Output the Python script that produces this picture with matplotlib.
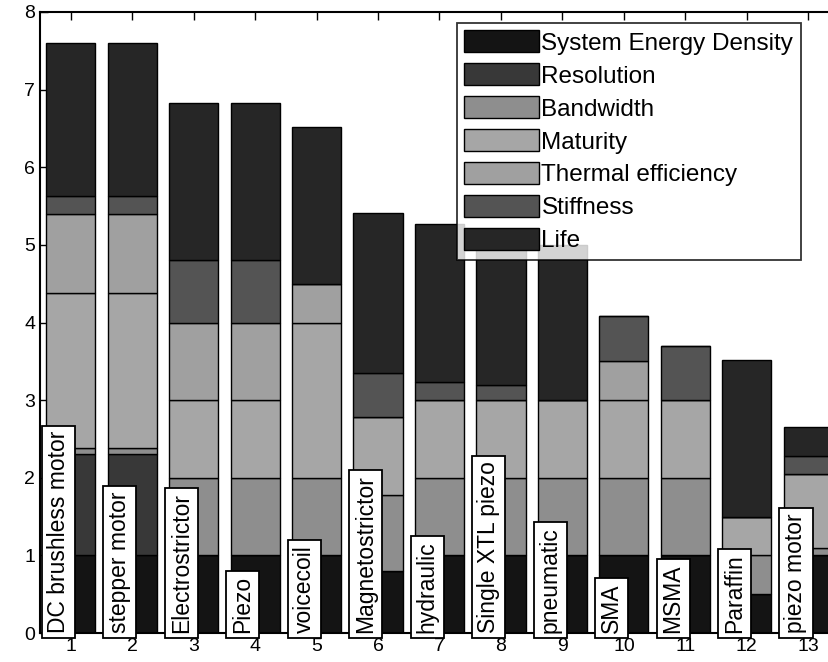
"""
Stacked bar chart of actuator technology scores (scanned MATLAB figure).
"""
import numpy as np
import matplotlib
matplotlib.use("Agg")
import matplotlib.pyplot as plt

plt.rcParams["font.family"] = ["Liberation Sans", "DejaVu Sans"]

actuators = ["DC brushless motor", "stepper motor", "Electrostrictor", "Piezo",
             "voicecoil", "Magnetostrictor", "hydraulic", "Single XTL piezo",
             "pneumatic", "SMA", "MSMA", "Paraffin", "piezo motor"]

series_names = ["System Energy Density", "Resolution", "Bandwidth", "Maturity",
                "Thermal efficiency", "Stiffness", "Life"]

energy_density = [1.0, 1.0, 1.0, 1.0, 1.0, 0.8, 1.0, 1.0, 1.0, 1.0, 1.0, 0.5, 1.0]
resolution = [1.3, 1.3, 0, 0, 0, 0, 0, 0, 0, 0, 0, 0, 0]
bandwidth = [0.08, 0.08, 1.0, 1.0, 1.0, 0.98, 1.0, 1.0, 1.0, 1.0, 1.0, 0.5, 0.1]
maturity = [2.0, 2.0, 1.0, 1.0, 2.0, 1.0, 1.0, 1.0, 1.0, 1.0, 1.0, 0.5, 0.95]
thermal = [1.02, 1.02, 1.0, 1.0, 0.5, 0, 0, 0, 0, 0.5, 0, 0, 0]
stiffness = [0.23, 0.23, 0.8, 0.8, 0, 0.57, 0.23, 0.2, 0, 0.58, 0.7, 0, 0.23]
life = [1.97, 1.97, 2.03, 2.03, 2.02, 2.06, 2.04, 2.0, 2.0, 0, 0, 2.02, 0.37]

series = [energy_density, resolution, bandwidth, maturity, thermal, stiffness, life]
grays = ["#141414", "#383838", "#8e8e8e", "#a6a6a6", "#a0a0a0", "#545454", "#262626"]

x = np.arange(1, len(actuators) + 1)

fig = plt.figure(figsize=(8.29, 6.62), dpi=100)
ax = fig.add_axes([40 / 829, 29 / 662, 799 / 829, 621 / 662])

bottom = np.zeros(len(x))
for name, vals, col in zip(series_names, series, grays):
    vals = np.array(vals)
    ax.bar(x, vals, 0.8, bottom=bottom, color=col, edgecolor="black",
           linewidth=1.0, label=name, zorder=2)
    bottom += vals

for xi, name in zip(x, actuators):
    ax.text(xi - 0.2, 0, name, rotation=90, ha="center", va="bottom",
            fontsize=16.5, zorder=5,
            bbox=dict(boxstyle="square,pad=0.22", fc="white", ec="black", lw=1.3))

ax.set_xlim(0.5, 13.5)
ax.set_ylim(0, 8)
ax.set_xticks(x)
ax.set_yticks(range(0, 9))
ax.tick_params(direction="in", length=6, width=1, top=True, right=True,
               labelsize=14)
for sp in ax.spines.values():
    sp.set_linewidth(1.5)

leg = ax.legend(loc="upper left", bbox_to_anchor=(0.522, 0.982), fontsize=17.5,
                frameon=True, fancybox=False, edgecolor="black",
                handlelength=3.05, handleheight=1.0, labelspacing=0.36,
                handletextpad=0.12, borderpad=0.3, borderaxespad=0)
leg.get_frame().set_linewidth(1.3)
leg.set_zorder(6)

fig.savefig("out.png", dpi=100)
